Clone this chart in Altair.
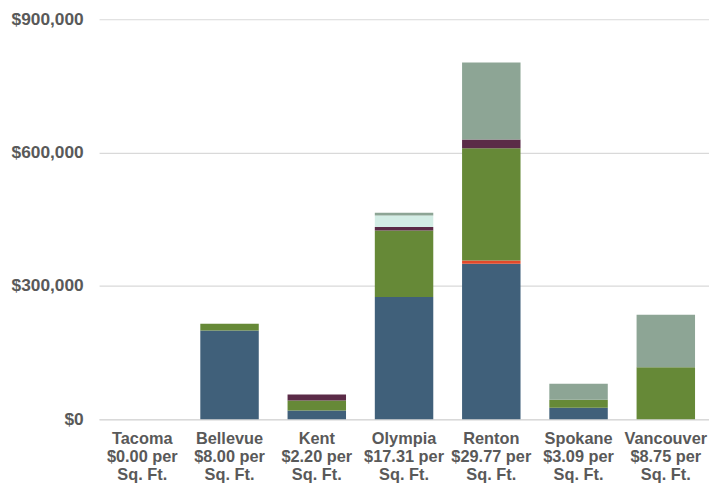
import altair as alt
import pandas as pd

cities = ["Tacoma", "Bellevue", "Kent", "Olympia", "Renton", "Spokane", "Vancouver"]
rates = ["$0.00 per", "$8.00 per", "$2.20 per", "$17.31 per", "$29.77 per", "$3.09 per", "$8.75 per"]

series = ["Blue", "Red", "Green", "Purple", "Mint", "Gray"]
colors = ["#40607a", "#e2492a", "#668937", "#5b2b47", "#d3ede5", "#8da595"]

blue = [0, 200000, 20000, 275000, 350000, 26000, 0]
red = [0, 0, 0, 0, 7000, 0, 0]
green = [0, 15000, 22000, 150000, 253000, 18000, 117000]
purple = [0, 0, 14000, 7500, 19500, 0, 0]
mint = [0, 0, 0, 26000, 0, 0, 0]
gray = [0, 0, 0, 6000, 173000, 36000, 118000]

values = [blue, red, green, purple, mint, gray]

rows = []
for si, (s, vals) in enumerate(zip(series, values)):
    for ci, c in enumerate(cities):
        label = f"{c}|{rates[ci]}|Sq. Ft."
        rows.append({"cat": label, "series": s, "order": si, "value": vals[ci]})
df = pd.DataFrame(rows)
cat_order = [f"{c}|{r}|Sq. Ft." for c, r in zip(cities, rates)]

chart = alt.Chart(df).mark_bar().encode(
    x=alt.X("cat:N", sort=cat_order, title=None,
            scale=alt.Scale(paddingInner=0.33, paddingOuter=0.16),
            axis=alt.Axis(labelExpr="split(datum.label, '|')", labelAngle=0,
                          labelFont="Liberation Sans",
                          labelFontWeight="bold", labelFontSize=16.5, labelColor="#595959",
                          labelLineHeight=18.5, labelPadding=11, ticks=False,
                          domain=True, domainColor="#d9d9d9", domainWidth=1.5,
                          labelLimit=200)),
    y=alt.Y("value:Q", title=None, stack="zero",
            scale=alt.Scale(domain=[0, 900000], nice=False),
            axis=alt.Axis(values=[0, 300000, 600000, 900000], format="$,.0f",
                          labelFont="Liberation Sans", labelFontWeight="bold",
                          labelFontSize=17.5, labelColor="#595959", labelPadding=16,
                          ticks=False, domain=False, gridColor="#d9d9d9", gridWidth=1.2)),
    color=alt.Color("series:N", scale=alt.Scale(domain=series, range=colors), legend=None),
    order=alt.Order("order:Q", sort="ascending"),
).properties(
    width=616, height=404,
    padding={"left": 3, "top": 0, "right": 0, "bottom": 0},
).configure_view(stroke=None)

chart.save("out.html", embed_options={"renderer": "svg", "actions": False})
